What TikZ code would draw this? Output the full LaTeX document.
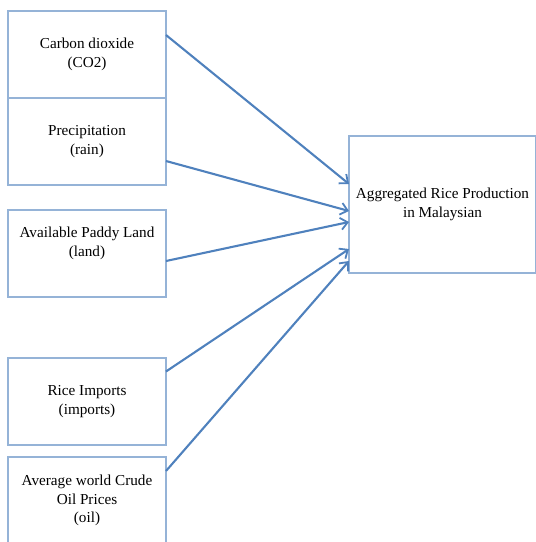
\documentclass[tikz,border=0pt]{standalone}
\usepackage{fontspec}
\setmainfont{Liberation Serif}
\usetikzlibrary{positioning,arrows.meta,calc}

\definecolor{boxline}{RGB}{149,179,215}
\definecolor{flowline}{RGB}{79,129,189}

\begin{document}
\begin{tikzpicture}[
  x=1pt,y=1pt,
  font=\fontsize{15.2}{18.5}\selectfont,
  box/.style={draw=boxline,line width=1.5pt,align=center,inner sep=3pt,outer sep=0pt,
              minimum width=158pt,minimum height=87pt},
  target/.style={box,minimum width=187pt,minimum height=137pt},
  flow/.style={-{Straight Barb[length=7pt,width=12pt,line width=1.8pt]},draw=flowline,line width=2.1pt}
]
\useasboundingbox (0,0) rectangle (536,-542);
\clip (0,0) rectangle (536,-542);

% ---- input factors ----
\node[box] (co2) at (87,-54.5) {Carbon dioxide\\(CO2)};
\node[box,below=0pt of co2] (rain) {Precipitation\\(rain)};
\node[box,below=25pt of rain] (land) {Available Paddy Land\\(land)\\\strut};
\node[box,below=61pt of land] (imports) {Rice Imports\\(imports)};
\node[box,below=12pt of imports] (oil) {Average world Crude\\Oil Prices\\(oil)};

% ---- output ----
\node[target] (prod) at (442.5,-204.5) {Aggregated Rice Production\\in Malaysian};

\draw[flow] ([yshift=19.5pt]co2.east) -- ([yshift=20.5pt]prod.west);
\draw[flow] ([yshift=-19.5pt]rain.east) -- ([yshift=-6.5pt]prod.west);
\draw[flow] ([yshift=-7.5pt]land.east) -- ([yshift=-17.5pt]prod.west);
\draw[flow] ([yshift=30pt]imports.east) -- ([yshift=-44.5pt]prod.west);
\draw[flow] ([yshift=29.5pt]oil.east) -- ([yshift=-56.5pt]prod.west);

\end{tikzpicture}
\end{document}
